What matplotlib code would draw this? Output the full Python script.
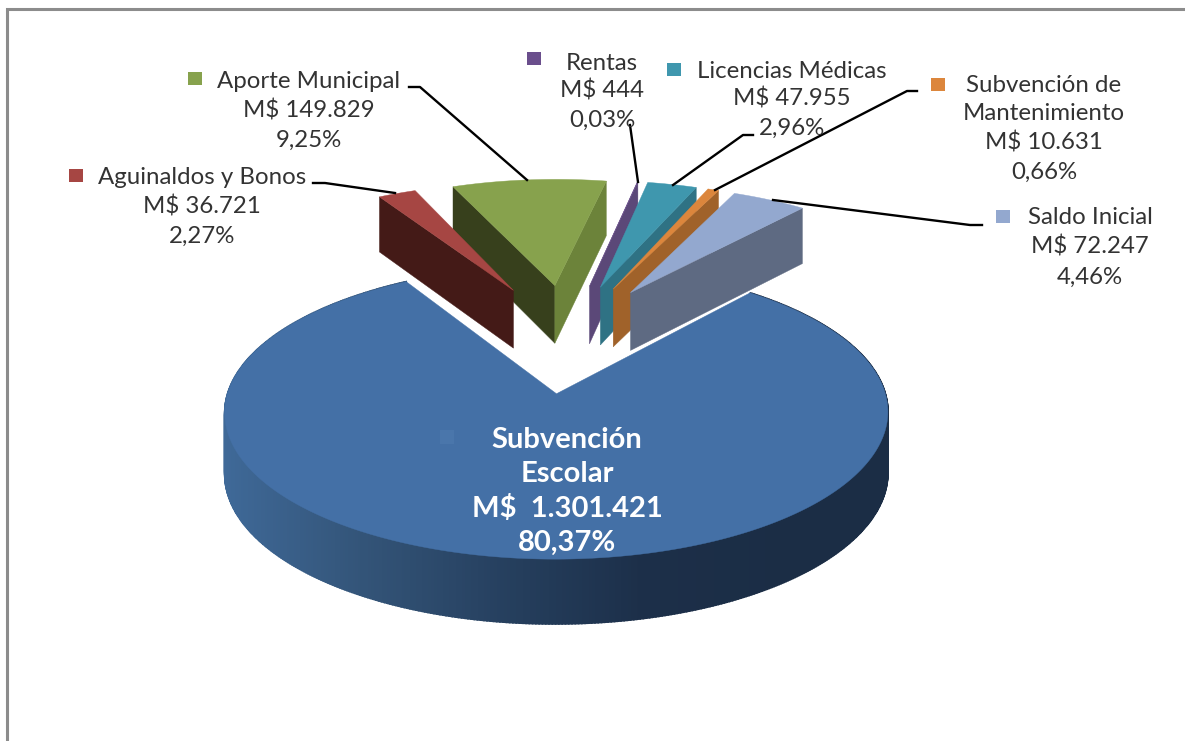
#!/usr/bin/env python3
"""
Exploded 3D pie of school funding sources
"""
import matplotlib.pyplot as plt
import numpy as np
from matplotlib.colors import LinearSegmentedColormap
from matplotlib.patches import Polygon, Rectangle

names = ['Subvención Escolar', 'Aguinaldos y Bonos', 'Aporte Municipal', 'Rentas',
         'Licencias Médicas', 'Subvención de Mantenimiento', 'Saldo Inicial']
values = [1301421, 36721, 149829, 444, 47955, 10631, 72247]
amounts = ['1.301.421', '36.721', '149.829', '444', '47.955', '10.631', '72.247']
percents = ['80,37%', '2,27%', '9,25%', '0,03%', '2,96%', '0,66%', '4,46%']

top_colors = ['#4470A6', '#A64643', '#87A24D', '#6A4E8C', '#3F97AE', '#DC863C', '#93A8CF']
left_colors = ['#1B2D47', '#441A17', '#37401C', '#5B4878', '#2F7284', '#A0622A', '#5E6A82']
right_colors = ['#1B2D47', '#441A17', '#6C833A', '#5B4878', '#2F7284', '#A0622A', '#5E6A82']
explode = [0.43, 0.40, 0.40, 0.40, 0.40, 0.40, 0.40]
draw_order = [1, 3, 2, 4, 5, 6, 7]

START = 40.0
CX, CY = 567, 335
RX, RY = 312, 130
PERSP = 0.12
DEPTH = 59
MAIN_SHIFT = 0.003

rim_cmap = LinearSegmentedColormap.from_list(
    'rim', ['#3F6998', '#335478', '#26405F', '#1C2F49', '#1B2D45'])


def project(x, y, z=0.0):
    p = 1 / (1 + PERSP * y)
    return CX + RX * x * p, CY - RY * y * p + DEPTH * z * np.sqrt(p)


def slice_outline(a0, a1, off):
    mid = np.radians((a0 + a1) / 2)
    ox, oy = off * np.sin(mid), off * np.cos(mid)
    th = np.radians(np.linspace(a0, a1, max(2, int(abs(a1 - a0) * 2))))
    return ox, oy, ox + np.sin(th), oy + np.cos(th)


def side_visible(apex, tip, inner):
    e = tip - apex
    m = inner - apex
    return np.sign(e[0] * m[1] - e[1] * m[0]) != np.sign(e[0])


fig = plt.figure(figsize=(11.85, 7.41), dpi=100)
ax = fig.add_axes([0, 0, 1, 1])
ax.set_xlim(0, 1185)
ax.set_ylim(741, 0)
ax.axis('off')

# frame of the pasted chart
ax.plot([7, 7, 1185], [741, 9, 9], color='#8C8C8C', lw=2.2, solid_joinstyle='miter')

shares = np.array(values) / sum(values) * 360
angle = START
for i in range(len(values)):
    a0, a1 = angle, angle + shares[i]
    angle = a1
    ox, oy, ax_x, ax_y = slice_outline(a0, a1, explode[i])
    if i == 0:
        ox += MAIN_SHIFT
        ax_x = ax_x + MAIN_SHIFT
    sx, sy = project(ax_x, ax_y)
    apex = np.array(project(ox, oy))
    apex_low = np.array(project(ox, oy, 1))
    zo = 1 + draw_order[i]

    if i == 0:
        # outer wall, shaded from left to right
        bx, by = project(ax_x, ax_y, 1)
        for j in range(len(sx) - 1):
            c = rim_cmap(np.clip((sx[j] - 224) / 560, 0, 1))
            ax.add_patch(Polygon([(sx[j], sy[j]), (sx[j + 1], sy[j + 1]),
                                  (bx[j + 1], by[j + 1]), (bx[j], by[j])],
                                 facecolor=c, edgecolor=c, lw=1.2, zorder=1))

    # flat walls along both cuts
    mid_pt = np.array([sx[len(sx) // 2], sy[len(sy) // 2]])
    for k, col in ((0, left_colors[i]), (-1, right_colors[i])):
        tip = np.array([sx[k], sy[k]])
        tip_low = np.array(project(ax_x[k], ax_y[k], 1))
        if i > 0 and side_visible(apex, tip, mid_pt):
            ax.add_patch(Polygon([apex, tip, tip_low, apex_low], facecolor=col,
                                 edgecolor=col, lw=0.3, zorder=zo))

    ax.add_patch(Polygon(np.vstack([apex, np.column_stack([sx, sy])]),
                         facecolor=top_colors[i], edgecolor=top_colors[i],
                         lw=0.3, zorder=zo + 0.5))

plt.rcParams['font.family'] = ['Lato', 'DejaVu Sans']
TXT = '#333333'
FS = 17.3

small_labels = [
    (1, 202, [178, 207, 236], ['Aguinaldos y Bonos'], (69, 169)),
    (2, 309, [82, 111, 140], ['Aporte Municipal'], (188, 72)),
    (3, 602, [63, 90, 120], ['Rentas'], (527, 52)),
    (4, 792, [71, 99, 128], ['Licencias Médicas'], (667, 63)),
    (5, 1044, [85, 114, 143, 172], ['Subvención de', 'Mantenimiento'], (931, 78)),
    (6, 1090, [218, 247, 277], ['Saldo Inicial'], (996, 210)),
]
for i, xc, ys, head, key in small_labels:
    lines = head + ['M$ ' + amounts[i], percents[i]]
    for y, line in zip(ys, lines):
        ax.text(xc, y, line, ha='center', va='center', fontsize=FS, color=TXT, zorder=20)
    ax.add_patch(Rectangle(key, 14, 13, facecolor=top_colors[i], edgecolor='none', zorder=20))

for y, line in zip([440, 474, 509, 543],
                   ['Subvención', 'Escolar', 'M$  ' + amounts[0], percents[0]]):
    ax.text(567, y, line, ha='center', va='center', fontsize=21, fontweight='bold',
            color='white', zorder=20)
ax.add_patch(Rectangle((440, 430), 14, 14, facecolor='#4A76AB', edgecolor='none', zorder=19))

leaders = [
    ([409, 420, 527], [87, 87, 180]),
    ([313, 325, 395], [183, 183, 193]),
    ([630, 638], [125, 182]),
    ([753, 743, 673], [135, 135, 185]),
    ([917, 907, 715], [91, 91, 190]),
    ([982, 970, 773], [225, 225, 200]),
]
for lx, ly in leaders:
    ax.plot(lx, ly, color='black', lw=1.7, zorder=15)

fig.savefig('out.png', dpi=100)
